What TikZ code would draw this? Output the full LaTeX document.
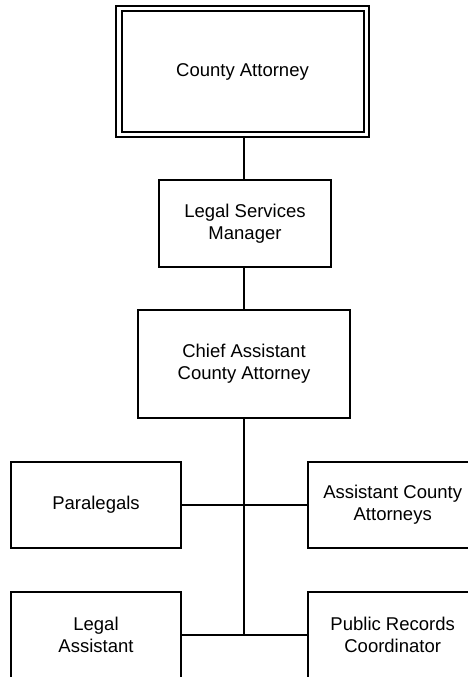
\documentclass[tikz,border=0pt]{standalone}
\usepackage{fontspec}
\setmainfont{Liberation Sans}
\begin{document}
\begin{tikzpicture}[x=1pt,y=-1pt,
  every node/.style={font=\fontsize{18.5}{21.7}\selectfont, align=center, inner sep=0pt},
  box/.style={draw, line width=2pt, rectangle, minimum width=170pt, minimum height=86pt},
  topbox/.style={draw, line width=2pt, double, double distance=3.5pt, outer sep=3.75pt,
    rectangle, minimum width=247.5pt, minimum height=125.5pt},
  link/.style={line width=2pt}]
  \useasboundingbox (0,0) rectangle (468,677);
  \clip (0,0) rectangle (468,677);

  % org chart boxes
  \node[topbox] (ca) at (242.5,71.5) {County Attorney};
  \node[box, minimum width=172pt, minimum height=87pt] (lsm) at (245,223.5) {Legal Services\\Manager};
  \node[box, minimum width=212pt, minimum height=108pt] (chief) at (244,364) {Chief Assistant\\County Attorney};
  \node[box] (para) at (96,504.5) {Paralegals};
  \node[box] (aca) at (392.7,504.5) {Assistant County\\Attorneys};
  \node[box] (la) at (96,634.7) {Legal\\Assistant};
  \node[box] (prc) at (392.7,634.7) {Public Records\\Coordinator};

  % reporting lines
  \coordinate (j2) at (chief.south |- la.east);
  \draw[link] (ca.south -| chief.north) -- (lsm.north -| chief.north);
  \draw[link] (lsm.south -| chief.north) -- (chief.north);
  \draw[link] (chief.south) -- (j2);
  \draw[link] (para.east) -- (aca.west);
  \draw[link] (la.east) -- (prc.west);
\end{tikzpicture}
\end{document}
